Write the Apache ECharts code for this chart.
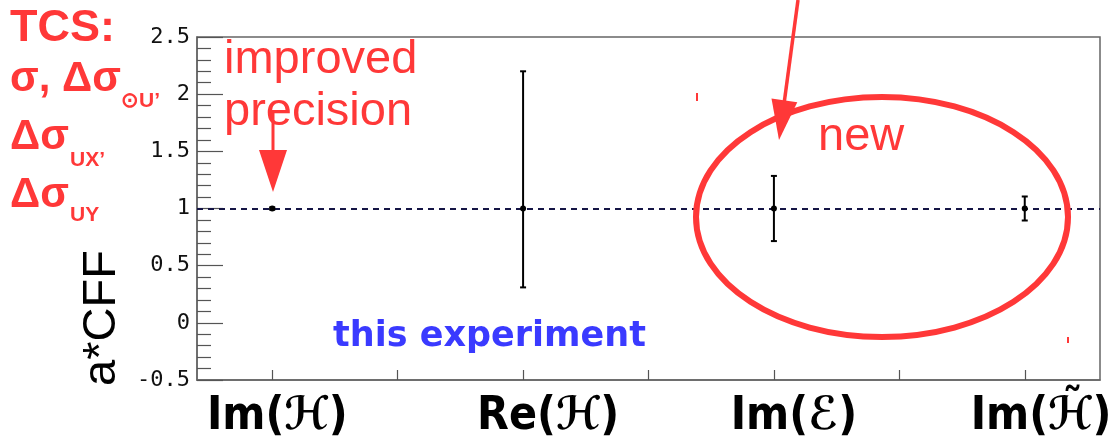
<!DOCTYPE html>
<html>
<head>
<meta charset="utf-8">
<title>TCS CFF projections</title>
<script src="https://cdn.jsdelivr.net/npm/echarts@6/dist/echarts.min.js"></script>
<style>
  html, body { margin: 0; padding: 0; background: #fff; }
  #chart { width: 1115px; height: 441px; }
</style>
</head>
<body>
<div id="chart"></div>
<script>
// Compton form factors and their projected ranges (scaled, a*CFF)
const categories = ['Im(\u210B)', 'Re(\u210B)', 'Im(\u2130)', 'Im(\u210B\u0303)'];
const xPositions = [1, 2, 3, 4];
const centralValues = [1, 1, 1, 1];
const lowerBounds = [0.99, 0.31, 0.715, 0.895];
const upperBounds = [1.01, 2.2, 1.285, 1.105];
const referenceLevel = 1;

// axis ticks and where the category names sit along the axis
const xTickPositions = [1, 1.5, 2, 2.5, 3, 3.5, 4];
const categoryLabelPositions = [1.02, 2.1, 3.08, 4.065];
const yTickLabels = ['-0.5', '0', '0.5', '1', '1.5', '2', '2.5'];
const yTitle = 'a*CFF';

const RED = '#ff3838';

const seriesData = xPositions.map((x, i) => [x, centralValues[i], lowerBounds[i], upperBounds[i]]);

function renderErrorBar(params, api) {
  const x = api.value(0);
  const c = api.coord([x, api.value(1)]);
  const lo = api.coord([x, api.value(2)]);
  const hi = api.coord([x, api.value(3)]);
  const cap = 3;
  const st = { stroke: '#000', lineWidth: 2 };
  return {
    type: 'group',
    children: [
      { type: 'line', shape: { x1: lo[0], y1: lo[1], x2: hi[0], y2: hi[1] }, style: st },
      { type: 'line', shape: { x1: hi[0] - cap, y1: hi[1], x2: hi[0] + cap, y2: hi[1] }, style: st },
      { type: 'line', shape: { x1: lo[0] - cap, y1: lo[1], x2: lo[0] + cap, y2: lo[1] }, style: st },
      { type: 'circle', shape: { cx: c[0], cy: c[1], r: 3 }, style: { fill: '#000' } }
    ]
  };
}

function categoryAt(v) {
  let best = 0;
  categoryLabelPositions.forEach((p, i) => {
    if (Math.abs(p - v) < Math.abs(categoryLabelPositions[best] - v)) best = i;
  });
  return categories[best];
}

// red annotation text; y is the top of the text line
function note(text, x, y, font) {
  return { type: 'text', x: x, y: y, z: 20, style: { text: text, fill: RED, font: font } };
}

const chart = echarts.init(document.getElementById('chart'), null, { renderer: 'canvas' });

chart.setOption({
  animation: false,
  backgroundColor: '#fff',
  grid: {
    left: 197, top: 37, right: 15, bottom: 61,
    show: true, borderColor: '#666', borderWidth: 1.5, backgroundColor: '#fff'
  },
  xAxis: {
    type: 'value', min: 0.7, max: 4.3,
    splitLine: { show: false },
    axisLine: { show: true, onZero: false, lineStyle: { color: '#666', width: 1.5 } },
    axisTick: { show: true, inside: true, length: 10, customValues: xTickPositions, lineStyle: { color: '#555', width: 1.2 } },
    axisLabel: {
      show: true, customValues: categoryLabelPositions, margin: 14,
      formatter: v => categoryAt(v),
      fontFamily: "'Liberation Sans Narrow', 'DejaVu Sans Condensed', 'Liberation Sans', sans-serif",
      fontWeight: 'bold', fontSize: 46, color: '#000'
    }
  },
  yAxis: {
    type: 'value', min: -0.5, max: 2.5, interval: 0.5,
    splitLine: { show: false },
    axisLine: { show: true, lineStyle: { color: '#666', width: 1.5 } },
    axisTick: { show: true, inside: true, length: 26, lineStyle: { color: '#555', width: 1.2 } },
    minorTick: { show: true, splitNumber: 5, length: 14, lineStyle: { color: '#555', width: 1.2 } },
    axisLabel: {
      margin: 7, color: '#111', fontSize: 22,
      fontFamily: "'DejaVu Sans Mono', monospace",
      formatter: v => yTickLabels[Math.round((v + 0.5) / 0.5)]
    }
  },
  series: [{
    type: 'custom',
    renderItem: renderErrorBar,
    data: seriesData,
    z: 5,
    markLine: {
      silent: true, symbol: 'none', label: { show: false },
      lineStyle: { color: '#151545', type: [6, 5], width: 1.8 },
      data: [{ yAxis: referenceLevel }]
    }
  }],
  graphic: [
    // y-axis title, set low along the axis
    {
      type: 'text', x: 102, y: 318, rotation: Math.PI / 2, z: 20,
      style: { text: yTitle, fill: '#000', font: '47px "Liberation Sans", sans-serif', align: 'center', verticalAlign: 'middle' }
    },

    // measured observables, upper left
    note('TCS:', 10, 6, 'bold 45px "Liberation Sans", sans-serif'),
    note('\u03C3, \u0394\u03C3', 10, 58, 'bold 42px "Liberation Sans", sans-serif'),
    note('\u2299U\u2019', 121, 91, 'bold 21px "Liberation Sans", sans-serif'),
    note('\u0394\u03C3', 10, 116, 'bold 42px "Liberation Sans", sans-serif'),
    note('UX\u2019', 70, 150, 'bold 21px "Liberation Sans", sans-serif'),
    note('\u0394\u03C3', 10, 174, 'bold 42px "Liberation Sans", sans-serif'),
    note('UY', 70, 205, 'bold 21px "Liberation Sans", sans-serif'),

    // improved precision note and arrow
    note('improved', 224, 37, '47px "Liberation Sans", sans-serif'),
    note('precision', 224, 89, '47px "Liberation Sans", sans-serif'),
    { type: 'line', z: 20, shape: { x1: 273, y1: 113, x2: 273, y2: 155 }, style: { stroke: RED, lineWidth: 3 } },
    { type: 'polygon', z: 20, shape: { points: [[259, 150], [287, 150], [273, 192]] }, style: { fill: RED } },

    { type: 'text', x: 333, y: 319, z: 20, style: { text: 'this experiment', fill: '#3a3aff', font: 'bold 35px "DejaVu Sans", sans-serif' } },

    // new observables
    { type: 'ellipse', z: 20, shape: { cx: 882, cy: 217, rx: 186, ry: 120 }, style: { fill: 'none', stroke: RED, lineWidth: 6 } },
    note('new', 818, 114, '47px "Liberation Sans", sans-serif'),
    { type: 'line', z: 20, shape: { x1: 798, y1: 0, x2: 784, y2: 104 }, style: { stroke: RED, lineWidth: 3.5 } },
    { type: 'polygon', z: 20, shape: { points: [[771.5, 98.6], [797.3, 102.2], [779, 140]] }, style: { fill: RED } },

    // small red marks
    { type: 'rect', z: 20, shape: { x: 696, y: 93, width: 2, height: 8 }, style: { fill: RED } },
    { type: 'rect', z: 20, shape: { x: 1067, y: 337, width: 2, height: 6 }, style: { fill: RED } }
  ]
});
</script>
</body>
</html>
